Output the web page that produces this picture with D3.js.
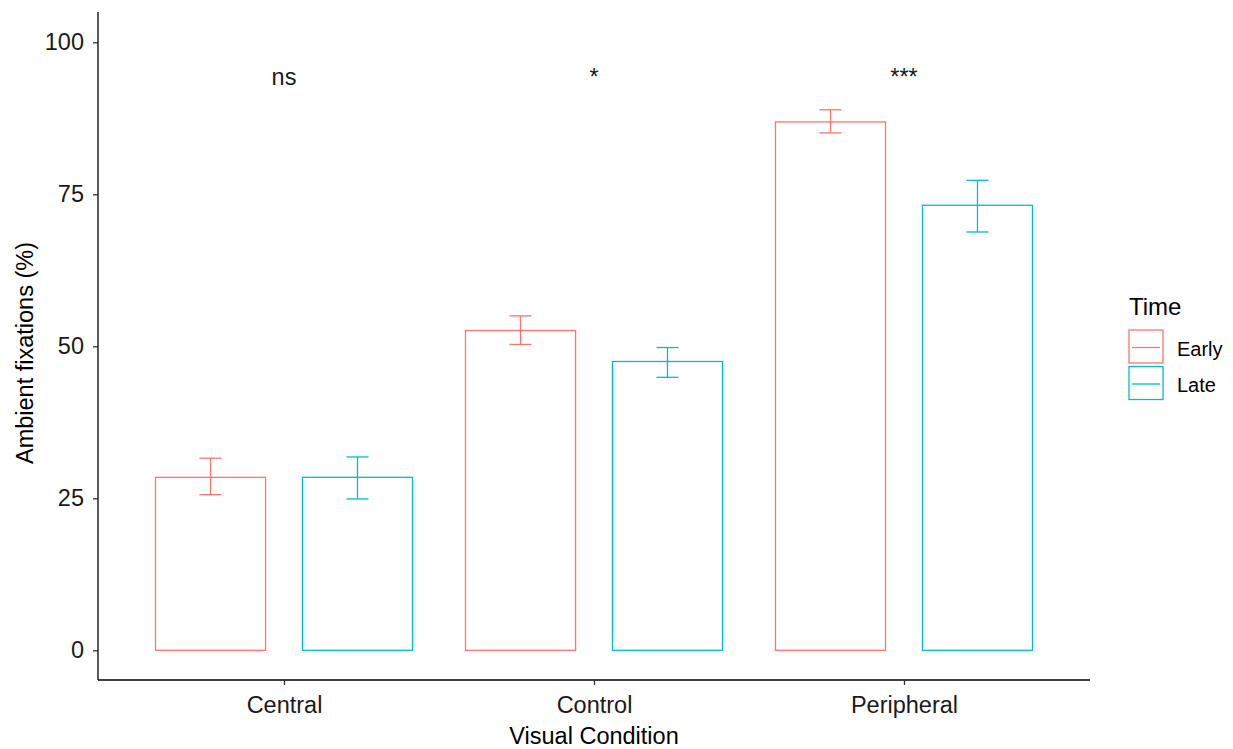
<!DOCTYPE html>
<html><head><meta charset="utf-8">
<script src="https://cdn.jsdelivr.net/npm/d3@7"></script>
<style>body{margin:0;background:#fff;} svg{display:block;font-family:"Liberation Sans",Arial,sans-serif;}</style>
</head><body>
<svg id="c" width="1233" height="749"></svg>
<script>
const categories = ["Central", "Control", "Peripheral"];
const timeGroups = ["Early", "Late"];
const earlyMeans = [28.45, 52.6, 86.9];
const earlyLow = [25.6, 50.3, 85.1];
const earlyHigh = [31.6, 55.0, 88.9];
const lateMeans = [28.45, 47.5, 73.2];
const lateLow = [24.9, 44.9, 68.8];
const lateHigh = [31.8, 49.8, 77.3];
const signif = ["ns", "*", "***"];
const yTicks = [0, 25, 50, 75, 100];
const colors = ["#F8766D", "#00BFC4"];

const data = [];
categories.forEach((c, i) => {
  data.push({cat: c, g: 0, v: earlyMeans[i], lo: earlyLow[i], hi: earlyHigh[i]});
  data.push({cat: c, g: 1, v: lateMeans[i], lo: lateLow[i], hi: lateHigh[i]});
});

const svg = d3.select("#c");
const L = 98, R = 1090, T = 12, B = 680;
const x = d3.scalePoint().domain(categories).range([L, R]).padding(0.6);
const step = x.step();
const y = d3.scaleLinear().domain([0, 100]).range([650.3, 42.3]);
const barW = step * 0.355, off = step * 0.237, capW = 22;
const textCol = "#1a1a1a";
const FS = 23.5;

// bars
svg.append("g").selectAll("rect").data(data).join("rect")
  .attr("x", d => x(d.cat) + (d.g ? off : -off) - barW / 2)
  .attr("y", d => y(d.v))
  .attr("width", barW)
  .attr("height", d => y(0) - y(d.v))
  .attr("fill", "none")
  .attr("stroke", d => colors[d.g])
  .attr("stroke-width", 1.3);

// error bars
const eg = svg.append("g").selectAll("g").data(data).join("g")
  .attr("stroke", d => colors[d.g]).attr("stroke-width", 1.3).attr("fill", "none");
eg.append("line")
  .attr("x1", d => x(d.cat) + (d.g ? off : -off)).attr("x2", d => x(d.cat) + (d.g ? off : -off))
  .attr("y1", d => y(d.lo)).attr("y2", d => y(d.hi));
eg.append("line")
  .attr("x1", d => x(d.cat) + (d.g ? off : -off) - capW / 2).attr("x2", d => x(d.cat) + (d.g ? off : -off) + capW / 2)
  .attr("y1", d => y(d.lo)).attr("y2", d => y(d.lo));
eg.append("line")
  .attr("x1", d => x(d.cat) + (d.g ? off : -off) - capW / 2).attr("x2", d => x(d.cat) + (d.g ? off : -off) + capW / 2)
  .attr("y1", d => y(d.hi)).attr("y2", d => y(d.hi));

// significance labels
svg.append("g").selectAll("text").data(categories).join("text")
  .attr("x", d => x(d))
  .attr("y", 84.5)
  .attr("text-anchor", "middle")
  .attr("font-size", FS)
  .attr("fill", textCol)
  .text((d, i) => signif[i]);

// y axis
const yAxis = svg.append("g").attr("transform", `translate(${L},0)`)
  .call(d3.axisLeft(y).tickValues(yTicks).tickSize(5).tickPadding(9));
yAxis.select(".domain").attr("d", `M0,${T}V${B}`).attr("stroke", "#000").attr("stroke-width", 1.3);
yAxis.selectAll(".tick line").attr("stroke", "#333").attr("stroke-width", 1.3);
yAxis.selectAll(".tick text").attr("font-size", FS).attr("fill", textCol).attr("font-family", "Liberation Sans, Arial, sans-serif");

// x axis
const xAxis = svg.append("g").attr("transform", `translate(0,${B})`)
  .call(d3.axisBottom(x).tickSize(5).tickPadding(11));
xAxis.select(".domain").attr("d", `M${L},0H${R}`).attr("stroke", "#000").attr("stroke-width", 1.3);
xAxis.selectAll(".tick line").attr("stroke", "#333").attr("stroke-width", 1.3);
xAxis.selectAll(".tick text").attr("font-size", FS).attr("fill", textCol).attr("font-family", "Liberation Sans, Arial, sans-serif");

// axis titles
svg.append("text").attr("x", (L + R) / 2).attr("y", 744).attr("text-anchor", "middle")
  .attr("font-size", FS).attr("fill", "#000").text("Visual Condition");
svg.append("text").attr("transform", `translate(33,${(T + B) / 2 + 7}) rotate(-90)`).attr("text-anchor", "middle")
  .attr("font-size", FS).attr("fill", "#000").text("Ambient fixations (%)");

// legend
const lg = svg.append("g").attr("transform", "translate(1129,0)");
lg.append("text").attr("x", 0).attr("y", 315).attr("font-size", 24).attr("fill", "#000").text("Time");
const items = lg.selectAll("g.k").data(timeGroups).join("g").attr("class", "k")
  .attr("transform", (d, i) => `translate(0,${330 + i * 36.5})`);
items.append("rect").attr("x", 0).attr("y", 0).attr("width", 34).attr("height", 33)
  .attr("fill", "#fff").attr("stroke", (d, i) => colors[i]).attr("stroke-width", 1.3);
items.append("line").attr("x1", 3).attr("x2", 31).attr("y1", 17.5).attr("y2", 17.5)
  .attr("stroke", (d, i) => colors[i]).attr("stroke-width", 1.3);
items.append("text").attr("x", 48).attr("y", 25.5).attr("font-size", 20).attr("fill", "#000").text(d => d);
</script>
</body></html>
